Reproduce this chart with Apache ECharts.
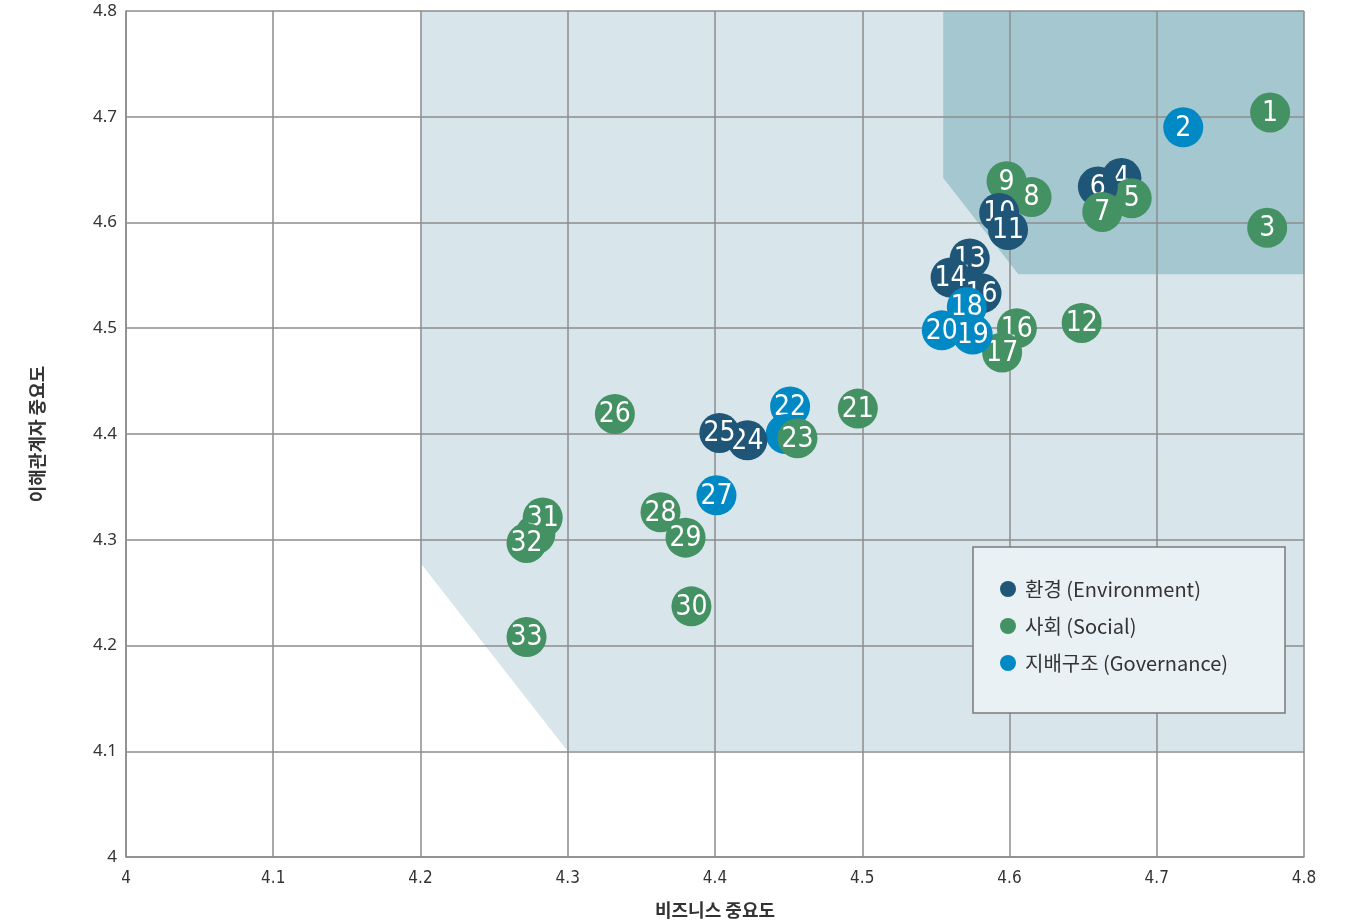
<!DOCTYPE html>
<html>
<head>
<meta charset="utf-8">
<script src="https://cdn.jsdelivr.net/npm/echarts@6/dist/echarts.min.js"></script>
<style>
  html, body { margin: 0; padding: 0; background: #ffffff; }
  #chart { width: 1348px; height: 924px; }
</style>
</head>
<body>
<div id="chart"></div>
<script>
// Axis ticks
const xTicks = [4, 4.1, 4.2, 4.3, 4.4, 4.5, 4.6, 4.7, 4.8];
const yTicks = [4, 4.1, 4.2, 4.3, 4.4, 4.5, 4.6, 4.7, 4.8];

// Shaded materiality zones (vertices as [business, stakeholder])
const zoneMid = [[4.2, 4.8], [4.2, 4.278], [4.3, 4.1], [4.8, 4.1], [4.8, 4.8]];
const zoneHigh = [[4.555, 4.8], [4.555, 4.642], [4.606, 4.551], [4.8, 4.551], [4.8, 4.8]];

// 환경 (Environment)
const envNo = ['4', '6', '10', '11', '13', '14', '16', '24', '25'];
const envX = [4.676, 4.660, 4.593, 4.599, 4.573, 4.560, 4.581, 4.422, 4.403];
const envY = [4.642, 4.634, 4.609, 4.593, 4.566, 4.548, 4.533, 4.394, 4.401];
const envLayer = [4, 6, 10, 11, 13, 14, 16, 24, 25];

// 사회 (Social)
const socNo = ['1', '3', '5', '7', '8', '9', '12', '16', '17', '21', '23', '26', '28', '29', '30', '', '31', '32', '33'];
const socX = [4.777, 4.775, 4.683, 4.663, 4.615, 4.598, 4.649, 4.605, 4.595, 4.497, 4.456, 4.332, 4.363, 4.380, 4.384, 4.278, 4.283, 4.272, 4.272];
const socY = [4.704, 4.595, 4.623, 4.610, 4.624, 4.639, 4.505, 4.500, 4.477, 4.424, 4.396, 4.419, 4.326, 4.302, 4.237, 4.305, 4.321, 4.297, 4.208];
const socLayer = [1, 3, 5, 7, 8, 9, 12, 16, 17, 21, 23, 26, 28, 29, 30, 30.5, 31, 32, 33];

// 지배구조 (Governance)
const govNo = ['2', '18', '19', '20', '22', '', '27'];
const govX = [4.718, 4.571, 4.575, 4.554, 4.451, 4.448, 4.401];
const govY = [4.690, 4.520, 4.494, 4.498, 4.426, 4.400, 4.342];
const govLayer = [2, 18, 19, 20, 22, 22.5, 27];

const seriesNames = ['환경 (Environment)', '사회 (Social)', '지배구조 (Governance)'];
const seriesColors = ['#1f5577', '#449163', '#0089c4'];

const BUBBLE_R = 20;
const NUM_FONT = '28px "Liberation Sans Narrow", "DejaVu Sans Condensed", "Roboto", sans-serif';

function buildData(xs, ys, layers) {
  return xs.map((x, i) => [x, ys[i], layers[i]]);
}

// Each bubble is a circle plus its number; z2 follows the item's layer so
// later-numbered bubbles sit on top of earlier ones across all three groups.
function bubbleRender(color, nos) {
  return function (params, api) {
    const pt = api.coord([api.value(0), api.value(1)]);
    const layer = api.value(2);
    const label = nos[params.dataIndex] || '';
    return {
      type: 'group',
      children: [
        {
          type: 'circle',
          shape: { cx: pt[0], cy: pt[1], r: BUBBLE_R },
          style: { fill: color },
          z2: Math.round(layer * 4)
        },
        {
          type: 'text',
          style: {
            text: label,
            x: pt[0], y: pt[1] + 1,
            fill: '#ffffff',
            font: NUM_FONT,
            align: 'center',
            verticalAlign: 'middle'
          },
          z2: Math.round(layer * 4) + 1
        }
      ]
    };
  };
}

function zoneRender(vertices, fill) {
  return function (params, api) {
    return {
      type: 'polygon',
      shape: { points: vertices.map(v => api.coord(v)) },
      style: { fill: fill }
    };
  };
}

const gridColor = '#8c8c8c';

const chart = echarts.init(document.getElementById('chart'), null, { renderer: 'canvas' });

const groups = [
  { x: envX, y: envY, layer: envLayer, no: envNo },
  { x: socX, y: socY, layer: socLayer, no: socNo },
  { x: govX, y: govY, layer: govLayer, no: govNo }
];

const bubbleSeries = groups.map((g, k) => ({
  name: seriesNames[k],
  type: 'custom',
  z: 3,
  itemStyle: { color: seriesColors[k] },
  dimensions: ['x', 'y', 'layer'],
  encode: { x: 0, y: 1 },
  data: buildData(g.x, g.y, g.layer),
  renderItem: bubbleRender(seriesColors[k], g.no)
}));

chart.setOption({
  animation: false,
  backgroundColor: '#ffffff',
  grid: { left: 126, top: 11, right: 44, bottom: 67, containLabel: false },
  xAxis: {
    type: 'value',
    min: xTicks[0], max: xTicks[xTicks.length - 1], interval: 0.1,
    z: 1,
    name: '비즈니스 중요도',
    nameLocation: 'middle',
    nameGap: 44,
    nameTextStyle: { fontFamily: 'Noto Sans CJK KR', fontSize: 18, fontWeight: 'bold', color: '#333333' },
    axisLine: { show: true, lineStyle: { color: gridColor, width: 1.5 } },
    axisTick: { show: false },
    axisLabel: {
      margin: 13, color: '#333333', fontSize: 17,
      fontFamily: '"Liberation Sans Narrow", "DejaVu Sans Condensed", sans-serif',
      formatter: v => String(+v.toFixed(1))
    },
    splitLine: { show: true, lineStyle: { color: gridColor, width: 1.5 } }
  },
  yAxis: {
    type: 'value',
    min: yTicks[0], max: yTicks[yTicks.length - 1], interval: 0.1,
    z: 1,
    name: '이해관계자 중요도',
    nameLocation: 'middle',
    nameGap: 80,
    nameRotate: 90,
    nameTextStyle: { fontFamily: 'Noto Sans CJK KR', fontSize: 18, fontWeight: 'bold', color: '#333333' },
    axisLine: { show: true, lineStyle: { color: gridColor, width: 1.5 } },
    axisTick: { show: false },
    axisLabel: {
      margin: 9, color: '#333333', fontSize: 17,
      fontFamily: '"Noto Sans", sans-serif',
      formatter: v => String(+v.toFixed(1))
    },
    splitLine: { show: true, lineStyle: { color: gridColor, width: 1.5 } }
  },
  graphic: [
    {
      type: 'rect',
      z: 10,
      shape: { x: 973, y: 547, width: 312, height: 166 },
      style: { fill: '#e9f1f4', stroke: '#7a7a7a', lineWidth: 1.5 }
    }
  ],
  legend: {
    z: 11,
    orient: 'vertical',
    left: 1000, top: 579,
    padding: 0,
    itemWidth: 24, itemHeight: 16, itemGap: 17,
    icon: 'circle',
    data: seriesNames,
    textStyle: { fontFamily: 'Noto Sans CJK KR', fontSize: 20, lineHeight: 20, color: '#333333' }
  },
  series: [
    {
      type: 'custom', z: 0, silent: true,
      data: [[0]],
      renderItem: zoneRender(zoneMid, '#d8e6ec')
    },
    {
      type: 'custom', z: 0.5, silent: true,
      data: [[0]],
      renderItem: zoneRender(zoneHigh, '#a4c7d0')
    }
  ].concat(bubbleSeries)
});
</script>
</body>
</html>
